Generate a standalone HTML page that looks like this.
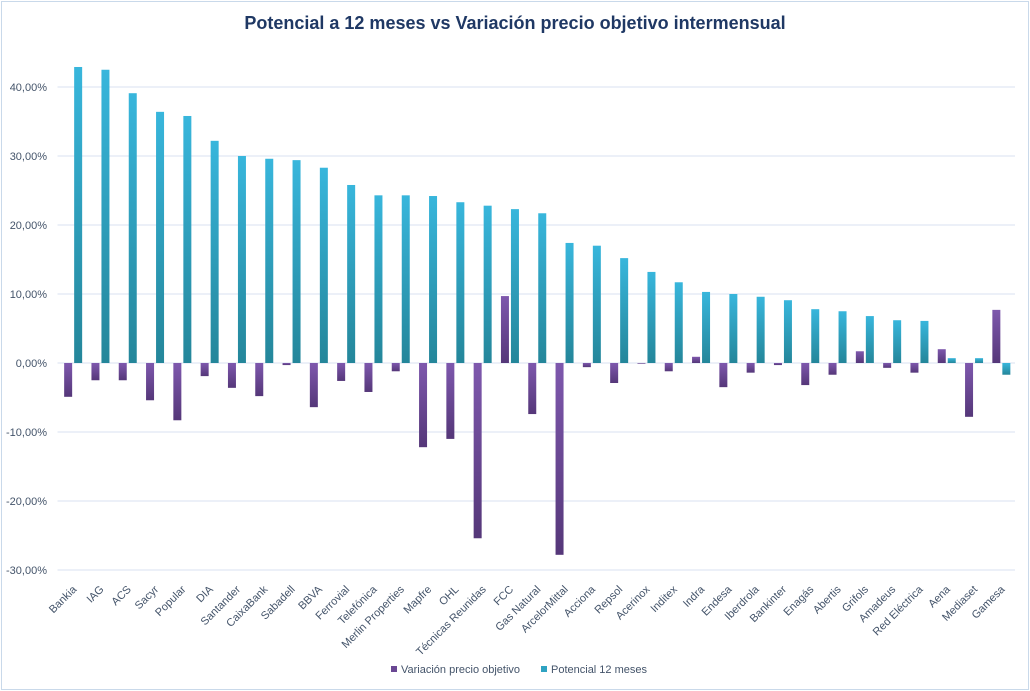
<!DOCTYPE html>
<html><head><meta charset="utf-8"><style>
html,body{margin:0;padding:0;background:#fff;}
#wrap{position:relative;width:1030px;height:691px;overflow:hidden;}
svg{font-family:"Liberation Sans",sans-serif;}
</style></head><body>
<div id="wrap">
<svg id="chart" width="1030" height="691">
<defs>
<linearGradient id="gt" x1="0" y1="0" x2="0" y2="1"><stop offset="0" stop-color="#38b6dc"/><stop offset="1" stop-color="#24869a"/></linearGradient>
<linearGradient id="gp" x1="0" y1="0" x2="0" y2="1"><stop offset="0" stop-color="#7e58ad"/><stop offset="1" stop-color="#553779"/></linearGradient>
</defs>
<rect x="1.5" y="1.5" width="1027" height="688" fill="#fff" stroke="#c9d9ea"/>
<text x="515" y="29" text-anchor="middle" font-size="18" font-weight="bold" fill="#1f3864">Potencial  a 12 meses vs Variación  precio objetivo intermensual</text>
<g id="grid"></g><g id="bars"></g><g id="xl"></g>
<g>
<rect x="391" y="666" width="6" height="6" fill="#6a47937"  style="fill:#6a4793"/>
<text x="401" y="673" font-size="11" fill="#44546a">Variación precio objetivo</text>
<rect x="541" y="666" width="6" height="6" fill="#2fa3c2"/>
<text x="551" y="673" font-size="11" fill="#44546a">Potencial 12 meses</text>
</g>
</svg></div>
<script>
const categories=["Bankia","IAG","ACS","Sacyr","Popular","DIA","Santander","CaixaBank","Sabadell","BBVA","Ferrovial","Telefónica","Merlin Properties","Mapfre","OHL","Técnicas Reunidas","FCC","Gas Natural","ArcelorMittal","Acciona","Repsol","Acerinox","Inditex","Indra","Endesa","Iberdrola","Bankinter","Enagás","Abertis","Grifols","Amadeus","Red Eléctrica","Aena","Mediaset","Gamesa"];
const potencial=[42.9,42.5,39.1,36.4,35.8,32.2,30.0,29.6,29.4,28.3,25.8,24.3,24.3,24.2,23.3,22.8,22.3,21.7,17.4,17.0,15.2,13.2,11.7,10.3,10.0,9.6,9.1,7.8,7.5,6.8,6.2,6.1,0.7,0.7,-1.7];
const variacion=[-4.9,-2.5,-2.5,-5.4,-8.3,-1.9,-3.6,-4.8,-0.3,-6.4,-2.6,-4.2,-1.2,-12.2,-11.0,-25.4,9.7,-7.4,-27.8,-0.6,-2.9,-0.1,-1.2,0.9,-3.5,-1.4,-0.3,-3.2,-1.7,1.7,-0.7,-1.4,2.0,-7.8,7.7];
const ticks=[-30,-20,-10,0,10,20,30,40];
const tickLabels=["-30,00%","-20,00%","-10,00%","0,00%","10,00%","20,00%","30,00%","40,00%"];
const NS="http://www.w3.org/2000/svg";
const x0=59.5,step=27.3;
const y=v=>363-v*6.9;
const xc=i=>x0+step*(i+0.5);
function mk(t,a,p){const e=document.createElementNS(NS,t);for(const k in a)e.setAttribute(k,a[k]);p.appendChild(e);return e;}
const g=document.getElementById('grid'),b=document.getElementById('bars'),xl=document.getElementById('xl');
ticks.forEach((t,i)=>{
 const l=mk('line',{x1:x0-2,x2:x0+step*35,y1:y(t),y2:y(t),stroke:'#d9e1f0','stroke-width':1},g);
 
 
 const tx=mk('text',{x:47,y:y(t)+4,'text-anchor':'end','font-size':11,fill:'#44546a'},g);
 tx.textContent=tickLabels[i];
 
 
});
categories.forEach((c,i)=>{
 const cx=xc(i);
 const v=variacion[i],p=potencial[i];
 const r1=mk('rect',{x:cx-9,y:Math.min(y(v),y(0)),width:8,height:Math.max(0.5,Math.abs(y(v)-y(0))),fill:'url(#gp)'},b);
 
 
 const r2=mk('rect',{x:cx+1,y:Math.min(y(p),y(0)),width:8,height:Math.max(0.5,Math.abs(y(p)-y(0))),fill:'url(#gt)'},b);
 
 
 const t=mk('text',{x:cx+4,y:590,'text-anchor':'end','font-size':11,fill:'#44546a',transform:'rotate(-45 '+(cx+4)+' 590)'},xl);
 t.textContent=c;
 
 
});
</script>
</body></html>
